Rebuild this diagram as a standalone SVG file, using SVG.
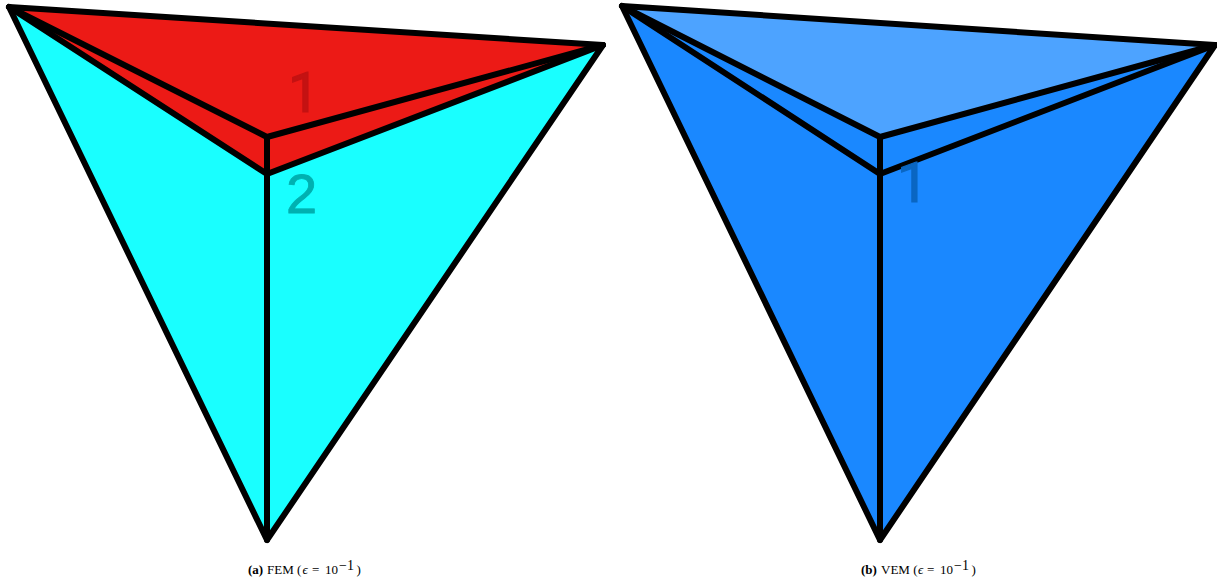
<svg xmlns="http://www.w3.org/2000/svg" width="1217" height="583" viewBox="0 0 1217 583">
<style>
.e{fill:none;stroke:#000;stroke-width:6;stroke-linejoin:round;stroke-linecap:round}
.n{font-family:Roboto,"Liberation Sans",Arial,sans-serif;font-size:56px;stroke-width:1.2px}
.t{font-family:"Liberation Sans",Arial,sans-serif;font-size:56px;stroke-width:.8px}
.c{font-family:"Liberation Serif","Times New Roman",serif;font-size:13px;fill:#000}
.b{font-weight:bold}
.s{font-size:14px}
.i{font-style:italic}
</style>
<rect width="1217" height="583" fill="#fff"/>
<g id="panel-a">
<g id="a-cyan"><polygon points="9,7 267,174 603,45 267,540" fill="#19ffff"/></g>
<g id="a-red"><polygon points="9,7 603,45 267,174" fill="#ec1a16"/></g>
<g id="a-edges" class="edges">
<path class="e" d="M9,7 L603,45 L267,540 Z"/>
<path class="e" d="M9,7 L267,137 L603,45"/>
<path class="e" d="M9,7 L267,174 L603,45"/>
<path class="e" d="M267,137 V540"/>
</g>
<text class="n" x="288" y="112" fill="#c41212" stroke="#c41212">1</text>
<text class="t" x="286" y="213" fill="#00b0b0" stroke="#00b0b0">2</text>
<text class="c"><tspan class="b" x="248" y="574">(a)</tspan><tspan x="267" y="574">FEM (</tspan><tspan class="i" x="302.500" y="574">ϵ</tspan><tspan x="312" y="574">=</tspan><tspan x="325" y="574">10</tspan><tspan class="s" x="339" y="570">−1</tspan><tspan x="356.500" y="574">)</tspan></text>
</g>
<g id="panel-b">
<g id="b-blue"><polygon points="622,6 1215,45 880,540" fill="#1a88ff"/></g>
<g id="b-top"><polygon points="622,6 1215,45 880,137" fill="#4da3ff"/></g>
<g id="b-edges" class="edges">
<path class="e" d="M622,6 L1215,45 L880,540 Z"/>
<path class="e" d="M622,6 L880,137 L1215,45"/>
<path class="e" d="M622,6 L880,174 L1215,45"/>
<path class="e" d="M880,137 V540"/>
</g>
<text class="n" x="897" y="202" fill="#0a66c2" stroke="#0a66c2">1</text>
<text class="c"><tspan class="b" x="861" y="574">(b)</tspan><tspan x="881" y="574">VEM (</tspan><tspan class="i" x="918" y="574">ϵ</tspan><tspan x="927" y="574">=</tspan><tspan x="940" y="574">10</tspan><tspan class="s" x="954" y="570">−1</tspan><tspan x="971.500" y="574">)</tspan></text>
</g>
</svg>
